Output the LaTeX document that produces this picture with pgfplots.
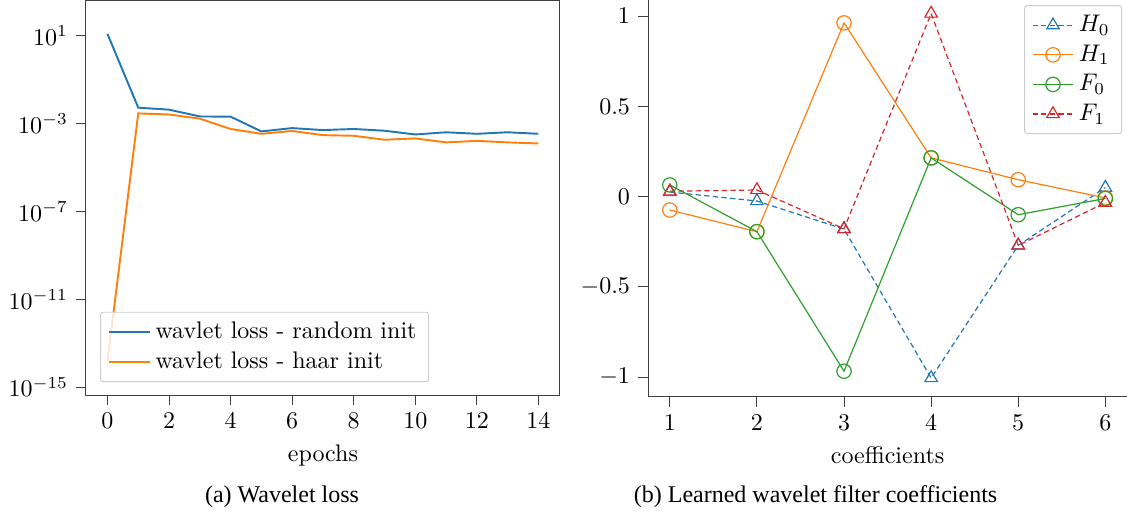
\documentclass[border=0pt]{standalone}
\usepackage{fontspec}
\newfontfamily\capfont{Liberation Serif}
\usepackage{pgfplots}
\pgfplotsset{compat=1.18}

\definecolor{tabblue}{HTML}{1F77B4}
\definecolor{taborange}{HTML}{FF7F0E}
\definecolor{tabgreen}{HTML}{2CA02C}
\definecolor{tabred}{HTML}{D62728}

\pgfplotsset{
  mplstyle/.style={
    scale only axis,
    tick align=outside,
    tick pos=left,
    major tick length=4pt,
    axis line style={-, draw=black!75},
    every tick/.style={draw=black!75},
    legend cell align=left,
    legend style={draw=black!20, fill=white, fill opacity=0.8,
      draw opacity=1, text opacity=1, rounded corners=1pt},
  },
}

\begin{document}
\begin{tikzpicture}
\path[use as bounding box] (-35.8pt,-51.25pt) rectangle (433.75pt,164.6pt);

% (a) wavelet loss
\begin{axis}[mplstyle,
  at={(0pt,0pt)}, anchor=south west,
  width=197.5pt, height=164.2pt,
  xmin=-0.7, xmax=14.7,
  ymode=log, ymin=4.4e-16, ymax=389,
  xtick={0,2,...,14},
  ytick={1e1,1e-3,1e-7,1e-11,1e-15},
  xlabel={epochs},
  legend style={at={(axis description cs:0.03,0.033)}, anchor=south west},
]
\addplot[tabblue, line width=0.8pt] coordinates {
  (0,12.3) (1,5.37e-3) (2,4.37e-3) (3,2.14e-3) (4,2.09e-3)
  (5,4.47e-4) (6,6.31e-4) (7,5.13e-4) (8,5.75e-4) (9,4.79e-4)
  (10,3.24e-4) (11,4.07e-4) (12,3.47e-4) (13,4.07e-4) (14,3.47e-4)
};
\addplot[taborange, line width=0.8pt] coordinates {
  (0,1.5e-14) (1,2.95e-3) (2,2.63e-3) (3,1.70e-3) (4,5.75e-4)
  (5,3.47e-4) (6,4.68e-4) (7,3.02e-4) (8,2.82e-4) (9,1.86e-4)
  (10,2.14e-4) (11,1.41e-4) (12,1.66e-4) (13,1.41e-4) (14,1.26e-4)
};
\legend{wavlet loss - random init, wavlet loss - haar init}
\end{axis}

% (b) learned filter coefficients
\begin{axis}[mplstyle,
  at={(234.2pt,-0.8pt)}, anchor=south west,
  width=199.6pt, height=165.4pt,
  axis x line*=bottom, axis y line*=left,
  xmin=0.75, xmax=6.25,
  ymin=-1.11, ymax=1.09,
  xtick={1,...,6},
  ytick={-1,-0.5,0,0.5,1},
  xlabel={coefficients},
  legend style={at={(axis description cs:0.9895,0.987)}, anchor=north east},
  every axis plot/.append style={line width=0.5pt, mark size=3pt, mark options={solid}},
]
\addplot[tabblue, dash pattern=on 2.2pt off 1.4pt, mark=triangle] coordinates {
  (1,0.026) (2,-0.024) (3,-0.18) (4,-1.005) (5,-0.27) (6,0.05)
};
\addplot[taborange, mark=o] coordinates {
  (1,-0.074) (2,-0.194) (3,0.963) (4,0.215) (5,0.094) (6,-0.007)
};
\addplot[tabgreen, mark=o] coordinates {
  (1,0.065) (2,-0.194) (3,-0.967) (4,0.215) (5,-0.10) (6,-0.01)
};
\addplot[tabred, dash pattern=on 2.2pt off 1.4pt, mark=triangle] coordinates {
  (1,0.03) (2,0.037) (3,-0.178) (4,1.015) (5,-0.27) (6,-0.033)
};
\legend{$H_0$, $H_1$, $F_0$, $F_1$}
\end{axis}

\node[font=\capfont] at (81.7pt,-42.5pt) {(a) Wavelet loss};
\node[font=\capfont] at (304pt,-42.5pt) {(b) Learned wavelet filter coefficients};
\end{tikzpicture}
\end{document}
